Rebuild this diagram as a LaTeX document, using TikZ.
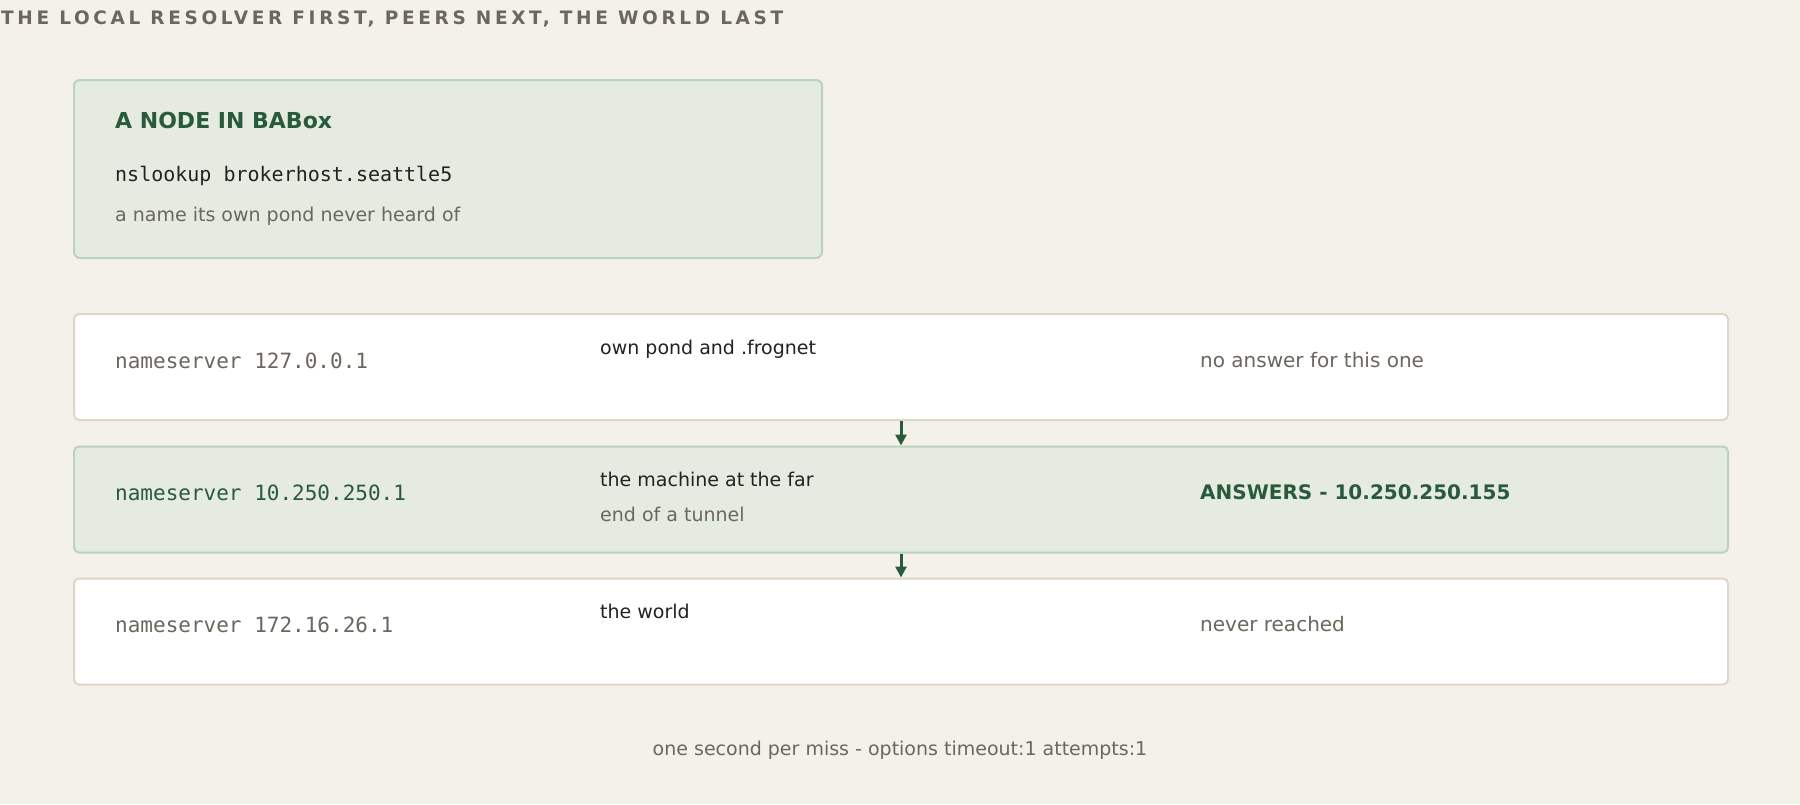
\documentclass[tikz,border=0pt]{standalone}
\usepackage{fontspec}
\setmainfont{DejaVu Sans}
\setmonofont{DejaVu Sans Mono}
\newfontfamily\spacedfont[LetterSpace=19.7]{DejaVu Sans}
\usetikzlibrary{arrows.meta}

\definecolor{cream}{HTML}{F4F1EA}
\definecolor{mossfill}{HTML}{E5EBE0}
\definecolor{mossline}{HTML}{BAD4BC}
\definecolor{sandline}{HTML}{DDD7C7}
\definecolor{pine}{HTML}{285A3B}
\definecolor{slate}{HTML}{6B675E}
\definecolor{ink}{HTML}{222222}

\tikzset{
  hostbox/.style={draw=mossline, fill=mossfill, line width=2pt, rounded corners=6pt, anchor=north west, inner sep=0pt},
  rowplain/.style={draw=sandline, fill=white, line width=2pt, rounded corners=5pt, anchor=north west, minimum width=1654pt, minimum height=106pt, inner sep=0pt},
  rowhit/.style={rowplain, draw=mossline, fill=mossfill},
  txt/.style={anchor=base west, inner sep=0pt, font=\fontsize{19}{23}\selectfont},
  mono/.style={anchor=base west, inner sep=0pt, font=\ttfamily\fontsize{21}{25}\selectfont},
  flow/.style={pine, line width=3pt, -{Triangle[length=11pt,width=11pt]}}
}

\begin{document}
\begin{tikzpicture}[x=1pt, y=-1pt]
        % Background and page size
        \fill[cream] (0,0) rectangle (1800,804);
        \useasboundingbox (0,0) rectangle (1800,804);

        % Heading
        \node[anchor=base west, inner sep=0pt, text=slate, font=\spacedfont\bfseries\fontsize{18.5}{22}\selectfont] (heading) at (1,24) {THE LOCAL RESOLVER FIRST, PEERS NEXT, THE WORLD LAST};

        % The asking host
        \node[hostbox, minimum width=748pt, minimum height=178pt] (host) at (73,79) {};
        \node[txt, font=\bfseries\fontsize{22}{26}\selectfont, text=pine] (hosttitle) at (115,128) {A NODE IN BABox};
        \node[mono, font=\ttfamily\fontsize{20}{24}\selectfont, text=ink] (hostcmd) at (115,181) {nslookup brokerhost.seattle5};
        \node[txt, text=slate] (hostnote) at (115,221) {a name its own pond never heard of};

        % Resolver rows
        \node[rowplain] (row1) at (73,313) {};
        \node[rowhit] (row2) at (73,445.5) {};
        \node[rowplain] (row3) at (73,577.5) {};

        % Row 1: local
        \node[mono, text=slate] (ns1) at (115,368) {nameserver 127.0.0.1};
        \node[txt, text=ink] (scope1) at (600,354) {own pond and .frognet};
        \node[txt, font=\fontsize{20}{24}\selectfont, text=slate] (res1) at (1200,367) {no answer for this one};

        % Row 2: peer
        \node[mono, text=pine] (ns2) at (115,500) {nameserver 10.250.250.1};
        \node[txt, text=ink] (scope2) at (600,486.5) {the machine at the far};
        \node[txt, text=slate] (scope2b) at (600,521.5) {end of a tunnel};
        \node[txt, font=\bfseries\fontsize{20}{24}\selectfont, text=pine] (res2) at (1200,499) {ANSWERS - 10.250.250.155};

        % Row 3: world
        \node[mono, text=slate] (ns3) at (115,632) {nameserver 172.16.26.1};
        \node[txt, text=ink] (scope3) at (600,618.5) {the world};
        \node[txt, font=\fontsize{20}{24}\selectfont, text=slate] (res3) at (1200,631) {never reached};

        % Fall-through arrows
        \draw[flow] (row1.south) -- (row2.north);
        \draw[flow] (row2.south) -- (row3.north);

        % Footnote
        \node[anchor=base, inner sep=0pt, text=slate, font=\fontsize{19}{23}\selectfont] (timeout) at (900,755) {one second per miss - options timeout:1 attempts:1};
\end{tikzpicture}
\end{document}
